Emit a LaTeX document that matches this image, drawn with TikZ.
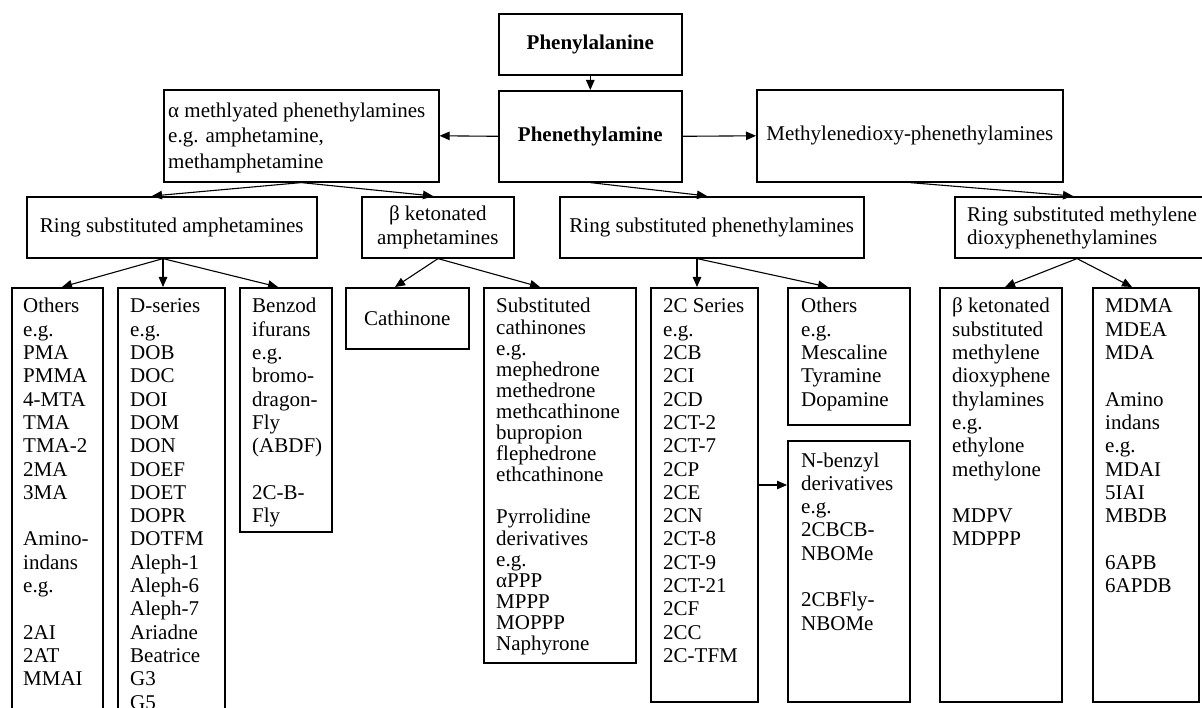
\documentclass[tikz,border=0pt]{standalone}
\usepackage{fontspec}
\setmainfont{Liberation Serif}
\usetikzlibrary{arrows.meta,calc}
\newcommand\diagfont{\fontsize{21}{23.3}\selectfont}
\tikzset{
  bx/.style={draw, line width=1.6pt, inner sep=0pt, anchor=north west, font=\diagfont},
  lst/.style={anchor=base west, inner sep=0pt, font=\diagfont},
  arr/.style={line width=1.1pt, -{Triangle[length=10pt,width=8.5pt]}},
}
\begin{document}
\begin{tikzpicture}[x=1pt,y=-1pt]
\useasboundingbox (0,0) rectangle (1202,708);
\clip (0,0) rectangle (1202,708);
% top row
\node[bx, minimum width=183pt, minimum height=61pt] (pal) at (498,13) {\bfseries Phenylalanine};
\node[bx, minimum width=183pt, minimum height=91pt] (pea) at (498,90) {\bfseries Phenethylamine};
\node[bx, minimum width=275pt, minimum height=92pt] (alp) at (163,89) {};
\node[lst] (alpt) at (168,117.5) {\parbox[t]{270pt}{\fontsize{21}{25.3}\selectfont\raggedright α methlyated phenethylamines\\e.g. amphetamine,\\methamphetamine}};
\node[bx, minimum width=306pt, minimum height=92pt] (mdp) at (756,89) {Methylenedioxy-phenethylamines};
% second row
\node[bx, minimum width=290pt, minimum height=61pt] (rsa) at (26,196) {Ring substituted amphetamines};
\node[bx, minimum width=152pt, minimum height=61pt, align=center] (bka) at (361,196) {β ketonated\\amphetamines};
\node[bx, minimum width=304pt, minimum height=61pt] (rsp) at (559,196) {Ring substituted phenethylamines};
\node[bx, minimum width=270pt, minimum height=61pt] (rsm) at (954,196) {};
\node[lst] (rsmt) at (967,221.7) {\parbox[t]{240pt}{\raggedright Ring substituted methylene\\dioxyphenethylamines}};
% third row
\node[bx, minimum width=91pt, minimum height=440pt] (oth1) at (11,287) {};
\node[bx, minimum width=107pt, minimum height=440pt] (dser) at (117,287) {};
\node[bx, minimum width=92pt, minimum height=244pt] (benz) at (239,287) {};
\node[bx, minimum width=123pt, minimum height=61pt] (cath) at (345,287) {Cathinone};
\node[bx, minimum width=152pt, minimum height=375pt] (subc) at (483,287) {};
\node[bx, minimum width=107pt, minimum height=414pt] (c2) at (650,287) {};
\node[bx, minimum width=122pt, minimum height=137pt] (oth2) at (787,287) {};
\node[bx, minimum width=122pt, minimum height=261pt] (nbz) at (787,440) {};
\node[bx, minimum width=122pt, minimum height=414pt] (bk2) at (939,287) {};
\node[bx, minimum width=106pt, minimum height=414pt] (mdma) at (1092,287) {};
% list texts
\node[lst] (oth1t) at ([shift={(12pt,-26pt)}]oth1.north west) {\parbox[t]{80pt}{\raggedright Others\\e.g.\\PMA\\PMMA\\4-MTA\\TMA\\TMA-2\\2MA\\3MA\\[\baselineskip]Amino-\\indans\\e.g.\\[\baselineskip]2AI\\2AT\\MMAI}};
\node[lst] (dsert) at ([shift={(13pt,-26pt)}]dser.north west) {\parbox[t]{94pt}{\raggedright D-series\\e.g.\\DOB\\DOC\\DOI\\DOM\\DON\\DOEF\\DOET\\DOPR\\DOTFM\\Aleph-1\\Aleph-6\\Aleph-7\\Ariadne\\Beatrice\\G3\\G5}};
\node[lst] (benzt) at ([shift={(13pt,-26pt)}]benz.north west) {\parbox[t]{80pt}{\raggedright Benzod\\ifurans\\e.g.\\bromo-\\dragon-\\Fly\\(ABDF)\\[\baselineskip]2C-B-\\Fly}};
\node[lst] (subct) at ([shift={(13pt,-26pt)}]subc.north west) {\parbox[t]{138pt}{\fontsize{21}{21.1}\selectfont\raggedright Substituted\\cathinones\\e.g.\\mephedrone\\methedrone\\methcathinone\\bupropion\\flephedrone\\ethcathinone\\[\baselineskip]Pyrrolidine\\derivatives\\e.g.\\αPPP\\MPPP\\MOPPP\\Naphyrone}};
\node[lst] (c2t) at ([shift={(13pt,-26pt)}]c2.north west) {\parbox[t]{94pt}{\raggedright 2C Series\\e.g.\\2CB\\2CI\\2CD\\2CT-2\\2CT-7\\2CP\\2CE\\2CN\\2CT-8\\2CT-9\\2CT-21\\2CF\\2CC\\2C-TFM}};
\node[lst] (oth2t) at ([shift={(14pt,-26pt)}]oth2.north west) {\parbox[t]{108pt}{\raggedright Others\\e.g.\\Mescaline\\Tyramine\\Dopamine}};
\node[lst] (nbzt) at ([shift={(14pt,-27pt)}]nbz.north west) {\parbox[t]{108pt}{\raggedright N-benzyl\\derivatives\\e.g.\\2CBCB-\\NBOMe\\[\baselineskip]2CBFly-\\NBOMe}};
\node[lst] (bk2t) at ([shift={(13pt,-26pt)}]bk2.north west) {\parbox[t]{108pt}{\raggedright β ketonated\\substituted\\methylene\\dioxyphene\\thylamines\\e.g.\\ethylone\\methylone\\[\baselineskip]MDPV\\MDPPP}};
\node[lst] (mdmat) at ([shift={(13pt,-26pt)}]mdma.north west) {\parbox[t]{92pt}{\raggedright MDMA\\MDEA\\MDA\\[\baselineskip]Amino\\indans\\e.g.\\MDAI\\5IAI\\MBDB\\[\baselineskip]6APB\\6APDB}};
% connectors
\draw[arr] (pal.south) -- (pea.north);
\draw[arr] (pea.west) -- (alp.east);
\draw[arr] (pea.east) -- (mdp.west);
\draw[arr] (alp.south) -- ([xshift=126pt]rsa.north west);
\draw[arr] (alp.south) -- ([xshift=72pt]bka.north west);
\draw[arr] (pea.south) -- ([xshift=148pt]rsp.north west);
\draw[arr] (mdp.south) -- ([xshift=119pt]rsm.north west);
\coordinate (rsab) at ([xshift=137pt]rsa.south west);
\draw[arr] (rsab) -- ([xshift=51pt]oth1.north west);
\draw[arr] (rsab) -- ([xshift=46pt]dser.north west);
\draw[arr] (rsab) -- ([xshift=39pt]benz.north west);
\coordinate (bkab) at ([xshift=77pt]bka.south west);
\draw[arr] (bkab) -- ([xshift=50pt]cath.north west);
\draw[arr] (bkab) -- ([xshift=57pt]subc.north west);
\coordinate (rspb) at ([xshift=138pt]rsp.south west);
\draw[arr] (rspb) -- ([xshift=47pt]c2.north west);
\draw[arr] (rspb) -- ([xshift=41pt]oth2.north west);
\coordinate (rsmb) at ([xshift=123pt]rsm.south west);
\draw[arr] (rsmb) -- ([xshift=66pt]bk2.north west);
\draw[arr] (rsmb) -- ([xshift=40pt]mdma.north west);
\coordinate (c2j) at ([yshift=-198pt]c2.north east);
\draw[arr] (c2j) -- (c2j -| nbz.west);
\end{tikzpicture}
\end{document}
